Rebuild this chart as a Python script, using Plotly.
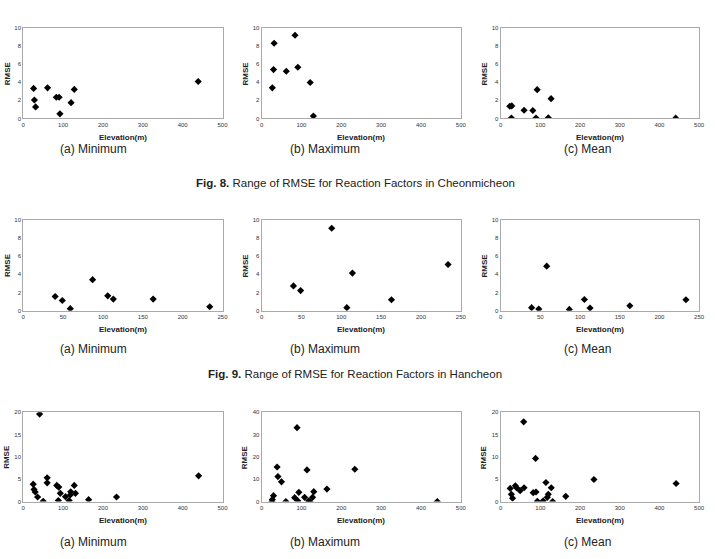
import plotly.graph_objects as go

# ---------------- data (elevation m, RMSE) ----------------
# Fig. 8 Cheonmicheon
cheon_min_x = [26, 28, 31, 61, 83, 90, 92, 120, 128, 439]
cheon_min_y = [3.32, 2.04, 1.28, 3.39, 2.34, 2.34, 0.51, 1.75, 3.21, 4.09]
cheon_max_x = [27, 30, 31.5, 62, 84, 91, 122, 130]
cheon_max_y = [3.39, 5.40, 8.32, 5.22, 9.20, 5.66, 3.98, 0.26]
cheon_mean_x = [23, 28, 27, 59, 81, 89, 92, 120, 127, 441]
cheon_mean_y = [1.35, 1.39, 0.05, 0.91, 0.88, 0.04, 3.18, 0.07, 2.19, 0.03]

# Fig. 9 Hancheon
han_min_x = [40, 49, 59, 87, 106, 113, 163, 234]
han_min_y = [1.56, 1.12, 0.22, 3.41, 1.63, 1.27, 1.27, 0.43]
han_max_x = [40, 49, 88, 107, 114, 163, 234]
han_max_y = [2.72, 2.21, 9.06, 0.33, 4.13, 1.20, 5.07]
han_mean_x = [39, 48, 58, 86.5, 105.5, 112.6, 162.7, 233.4]
han_mean_y = [0.33, 0.18, 4.89, 0.14, 1.23, 0.29, 0.54, 1.20]

# Fig. 10 (all stations)
all_min_x = [41, 25, 27, 30, 36, 50, 60, 60, 84, 89, 88, 93, 106, 115, 118, 119, 128, 131, 164, 234, 440]
all_min_y = [19.6, 3.91, 2.73, 2.14, 1.03, 0.05, 5.31, 4.20, 3.62, 3.25, 0.22, 1.85, 1.11, 0.22, 1.48, 2.21, 3.62, 1.85, 0.44, 1.03, 5.76]
all_max_x = [26, 27, 30, 39, 41, 50, 61, 83, 89, 91, 93.5, 108, 114, 118, 121, 128, 131, 164, 234, 441]
all_max_y = [0.0, 0.89, 2.66, 15.5, 11.2, 8.86, 0.0, 1.77, 33.1, 0.3, 4.13, 1.92, 14.2, 0.3, 0.0, 1.92, 4.43, 5.61, 14.5, 0.0]
all_mean_x = [24, 27, 30, 37, 40, 49, 58, 59, 82, 88, 89, 92.5, 107, 114, 117.5, 120, 127.5, 131, 164, 235, 442]
all_mean_y = [2.95, 1.62, 0.74, 3.54, 3.10, 2.44, 17.86, 3.10, 1.99, 9.67, 2.14, 0.07, 0.15, 4.28, 0.96, 1.62, 3.10, 0.0, 1.18, 4.94, 4.06]

sub_captions = ["(a) Minimum", "(b) Maximum", "(c) Mean"]
fig_captions = ["<b>Fig. 8.</b> Range of RMSE for Reaction Factors in Cheonmicheon",
                "<b>Fig. 9.</b> Range of RMSE for Reaction Factors in Hancheon"]

# ---------------- layout geometry ----------------
W, H = 715, 559
cols_px = [(21.5, 223), (262.5, 464), (504.3, 705)]
rows_px = [(25.3, 116.7), (219, 311), (413.7, 504)]

panels = [
    (0, 0, cheon_min_x, cheon_min_y, 500, 100, 10, 2),
    (0, 1, cheon_max_x, cheon_max_y, 500, 100, 10, 2),
    (0, 2, cheon_mean_x, cheon_mean_y, 500, 100, 10, 2),
    (1, 0, han_min_x, han_min_y, 250, 50, 10, 2),
    (1, 1, han_max_x, han_max_y, 250, 50, 10, 2),
    (1, 2, han_mean_x, han_mean_y, 250, 50, 10, 2),
    (2, 0, all_min_x, all_min_y, 500, 100, 20, 5),
    (2, 1, all_max_x, all_max_y, 500, 100, 40, 10),
    (2, 2, all_mean_x, all_mean_y, 500, 100, 20, 5),
]

fig = go.Figure()
tick_font = dict(family="Liberation Sans Narrow, Arial", size=6, color="#333")
title_font = dict(family="Liberation Sans Narrow, Arial", size=8, color="#222")
annotations = []

for i, (r, c, xs, ys, xmax, xd, ymax, yd) in enumerate(panels):
    n = "" if i == 0 else str(i + 1)
    x0, x1 = cols_px[c]
    yt, yb = rows_px[r]
    fig.add_trace(go.Scatter(
        x=xs, y=ys, mode="markers", xaxis="x" + n, yaxis="y" + n,
        marker=dict(symbol="diamond", size=5.5, color="black"),
        showlegend=False, hoverinfo="skip"))
    fig.layout["xaxis" + n] = dict(
        domain=[x0 / W, x1 / W], range=[0, xmax], dtick=xd, tick0=0,
        anchor="y" + n, showgrid=False, zeroline=False, showline=True,
        linecolor="#aaa", linewidth=1, mirror=True, ticks="",
        tickfont=tick_font, fixedrange=True)
    fig.layout["yaxis" + n] = dict(
        domain=[1 - yb / H, 1 - yt / H], range=[0, ymax], dtick=yd, tick0=0,
        anchor="x" + n, showgrid=False, zeroline=False, showline=True,
        linecolor="#aaa", linewidth=1, mirror=True, ticks="",
        tickfont=tick_font, fixedrange=True)
    # axis titles
    annotations.append(dict(
        text="<b>Elevation(m)</b>", xref="paper", yref="paper",
        x=(x0 + x1) / 2 / W, y=1 - (yb + 19) / H, showarrow=False,
        font=title_font, xanchor="center", yanchor="middle"))
    annotations.append(dict(
        text="<b>RMSE</b>", xref="paper", yref="paper", textangle=-90,
        x=(x0 - 16.5) / W, y=1 - (yt + yb) / 2 / H, showarrow=False,
        font=title_font, xanchor="center", yanchor="middle"))

cap_font = dict(family="Liberation Sans Narrow, Arial", size=12, color="#222")
cap_x = [93, 327, 592]
cap_y = [148, 350, 545]
for r in range(3):
    for c in range(3):
        annotations.append(dict(
            text=sub_captions[c], xref="paper", yref="paper",
            x=cap_x[c] / W, y=1 - cap_y[r] / H, showarrow=False,
            font=cap_font, xanchor="center", yanchor="middle"))
fig_cap_y = [182, 375]
for k in range(2):
    annotations.append(dict(
        text=fig_captions[k], xref="paper", yref="paper",
        x=357 / W, y=1 - fig_cap_y[k] / H, showarrow=False,
        font=dict(family="Liberation Sans Narrow, Arial", size=11.5, color="#222"),
        xanchor="center", yanchor="middle"))

fig.update_layout(
    width=W, height=H, margin=dict(l=0, r=0, t=0, b=0),
    paper_bgcolor="white", plot_bgcolor="white",
    annotations=annotations, showlegend=False)

fig.write_html("out.html", config={"displayModeBar": False})
